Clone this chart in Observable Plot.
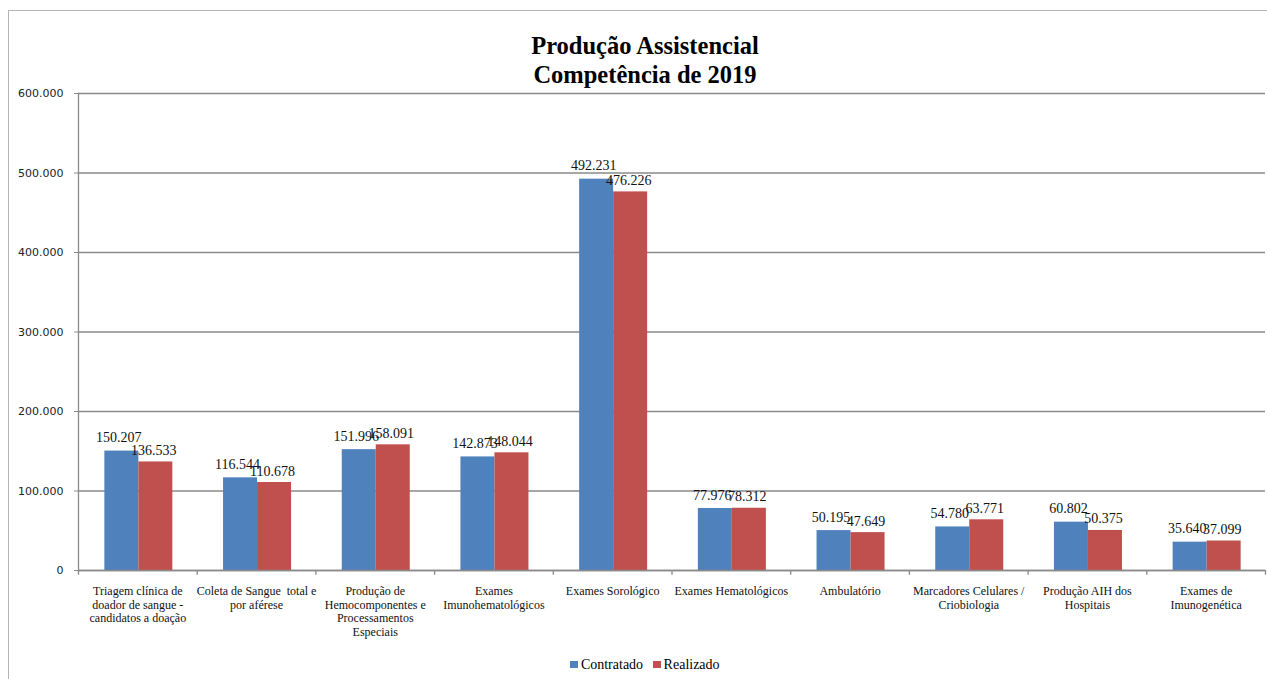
<!DOCTYPE html>
<html>
<head>
<meta charset="utf-8">
<script src="https://cdn.jsdelivr.net/npm/d3@7"></script>
<script src="https://cdn.jsdelivr.net/npm/@observablehq/plot@0.6"></script>
<style>
  html, body { margin: 0; padding: 0; background: #fff; width: 1267px; height: 679px; overflow: hidden; }
  #frame { position: absolute; left: 8px; top: 10px; width: 1290px; height: 720px; border: 1.5px solid #b4b4b4; box-sizing: border-box; }
  #title { position: absolute; left: 0; top: 31px; width: 1290px; text-align: center; font: bold 24.5px "Liberation Serif", serif; line-height: 29px; color: #000; }
  #chart { position: absolute; left: 0; top: 85px; }
  #legend { position: absolute; left: 0; top: 656px; width: 1290px; text-align: center; font: 14px "Liberation Serif", serif; line-height: 18px; color: #000; }
  #legend span.sw { display: inline-block; width: 7.5px; height: 7.5px; margin-right: 3px; vertical-align: 1px; }
  #legend span.item { margin: 0 5px; }
</style>
</head>
<body>
<div id="frame"></div>
<div id="title">Produção Assistencial<br>Competência de 2019</div>
<div id="chart"></div>
<div id="legend"></div>
<script>
const categories = [
  "Triagem clínica de doador de sangue - candidatos a doação",
  "Coleta de Sangue  total e por aférese",
  "Produção de Hemocomponentes e Processamentos Especiais",
  "Exames Imunohematológicos",
  "Exames Sorológico",
  "Exames Hematológicos",
  "Ambulatório",
  "Marcadores Celulares / Criobiologia",
  "Produção AIH dos Hospitais",
  "Exames de Imunogenética"
];
const tickLabels = [
  "Triagem clínica de\ndoador de sangue -\ncandidatos a doação",
  "Coleta de Sangue  total e\npor aférese",
  "Produção de\nHemocomponentes e\nProcessamentos\nEspeciais",
  "Exames\nImunohematológicos",
  "Exames Sorológico",
  "Exames Hematológicos",
  "Ambulatório",
  "Marcadores Celulares /\nCriobiologia",
  "Produção AIH dos\nHospitais",
  "Exames de\nImunogenética"
];
const series = ["Contratado", "Realizado"];
const colors = ["#4F81BD", "#C0504D"];
const contratado = [150207, 116544, 151996, 142873, 492231, 77976, 50195, 54780, 60802, 35640];
const realizado  = [136533, 110678, 158091, 148044, 476226, 78312, 47649, 63771, 50375, 37099];
const yTicks = [0, 100000, 200000, 300000, 400000, 500000, 600000];

const fmt = d3.formatLocale({decimal: ",", thousands: ".", grouping: [3], currency: ["", ""]}).format(",.0f");

const rows = categories.flatMap((c, i) => [
  {cat: c, serie: series[0], v: contratado[i]},
  {cat: c, serie: series[1], v: realizado[i]}
]);
const labelOf = new Map(categories.map((c, i) => [c, tickLabels[i]]));

const W = 1267, H = 563, ML = 78, MR = 2, MT = 8, MB = 78;
const bw = (W - ML - MR) / categories.length;
const barW = 34;
const center = bw / 2 + 1;
const grid = "#8a8a8a";

const chart = Plot.plot({
  width: W, height: H,
  marginLeft: ML, marginRight: MR, marginTop: MT, marginBottom: MB,
  style: {background: "transparent", overflow: "visible"},
  x: {domain: categories, padding: 0, round: false, label: null},
  y: {domain: [0, 600000], label: null},
  color: {domain: series, range: colors},
  marks: [
    Plot.gridY(yTicks, {stroke: grid, strokeOpacity: 1, strokeWidth: 1.3}),
    Plot.barY(rows.filter(d => d.serie === series[0]), {x: "cat", y: "v", fill: "serie", insetLeft: center - barW, insetRight: bw - center}),
    Plot.barY(rows.filter(d => d.serie === series[1]), {x: "cat", y: "v", fill: "serie", insetLeft: center, insetRight: bw - center - barW}),
    Plot.ruleY([0], {stroke: grid, strokeWidth: 1.3}),
    Plot.frame({anchor: "left", stroke: grid, strokeWidth: 1.3}),
    Plot.ruleX(categories, {x: d => d, y1: 0, y2: -6000, dx: -bw / 2, stroke: grid, strokeWidth: 1.3}),
    Plot.ruleX(categories.slice(-1), {x: d => d, y1: 0, y2: -6000, dx: bw / 2, stroke: grid, strokeWidth: 1.3}),
    Plot.axisY(yTicks, {tickSize: 4, tickPadding: 11, tickFormat: fmt, fontSize: 11, fontFamily: "DejaVu Sans", fill: "#222", stroke: grid, label: null}),
    Plot.axisX({tickSize: 0, tickPadding: 15, tickFormat: d => labelOf.get(d), fontSize: 12, fontFamily: "Liberation Serif", fill: "#111", lineHeight: 1.125, label: null}),
    Plot.text(rows.filter(d => d.serie === series[0]), {x: "cat", y: "v", text: d => fmt(d.v), dx: center - bw / 2 - barW / 2 - 3, dy: -9, lineAnchor: "bottom", fontSize: 14, fontFamily: "Liberation Serif", fill: "#111"}),
    Plot.text(rows.filter(d => d.serie === series[1]), {x: "cat", y: "v", text: d => fmt(d.v), dx: center - bw / 2 + barW / 2 - 2, dy: -7, lineAnchor: "bottom", fontSize: 14, fontFamily: "Liberation Serif", fill: "#111"})
  ]
});
document.getElementById("chart").appendChild(chart);

const legend = document.getElementById("legend");
series.forEach((s, i) => {
  const item = document.createElement("span");
  item.className = "item";
  item.innerHTML = `<span class="sw" style="background:${colors[i]}"></span>${s}`;
  legend.appendChild(item);
});
</script>
</body>
</html>
